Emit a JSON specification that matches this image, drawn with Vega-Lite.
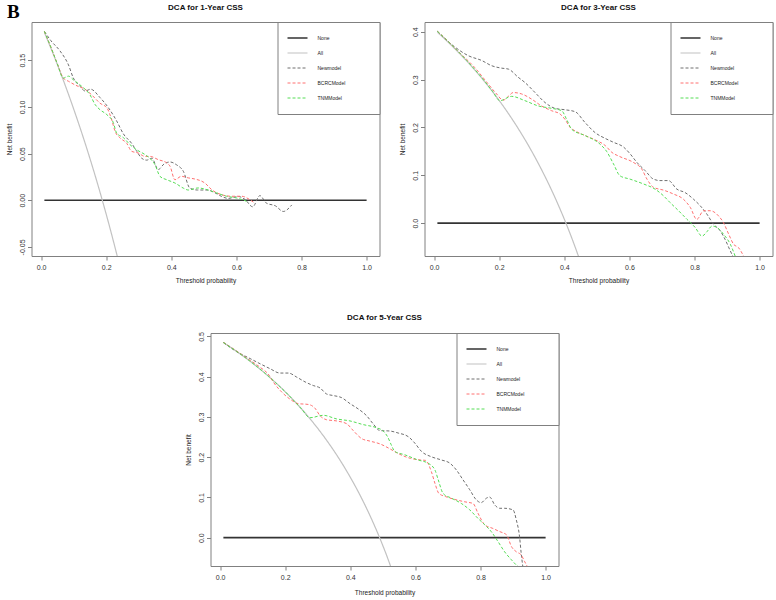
{
  "$schema": "https://vega.github.io/schema/vega-lite/v6.json",
  "padding": {"left": 5.5, "top": 3, "right": 2, "bottom": 3},
  "background": "white",
  "title": {"text": "B", "anchor": "start", "frame": "bounds", "orient": "top", "offset": -19, "dx": 1, "font": "Liberation Serif", "fontSize": 19, "fontWeight": "bold", "color": "#000000"},
  "datasets": {
    "dca": [
      {"panel":1,"model":"None","t":0.01,"nb":0},{"panel":1,"model":"None","t":1,"nb":0},
      {"panel":1,"model":"All","t":0.01,"nb":0.1798},{"panel":1,"model":"All","t":0.03,"nb":0.1629},{"panel":1,"model":"All","t":0.05,"nb":0.1453},{"panel":1,"model":"All","t":0.07,"nb":0.1269},{"panel":1,"model":"All","t":0.09,"nb":0.1077},{"panel":1,"model":"All","t":0.11,"nb":0.0876},{"panel":1,"model":"All","t":0.13,"nb":0.0667},{"panel":1,"model":"All","t":0.15,"nb":0.0447},{"panel":1,"model":"All","t":0.17,"nb":0.0217},{"panel":1,"model":"All","t":0.19,"nb":-0.0025},{"panel":1,"model":"All","t":0.21,"nb":-0.0279},{"panel":1,"model":"All","t":0.23,"nb":-0.0546},{"panel":1,"model":"All","t":0.25,"nb":-0.0827},
      {"panel":1,"model":"Newmodel","t":0.01,"nb":0.181},{"panel":1,"model":"Newmodel","t":0.03,"nb":0.171},{"panel":1,"model":"Newmodel","t":0.058,"nb":0.16},{"panel":1,"model":"Newmodel","t":0.084,"nb":0.145},{"panel":1,"model":"Newmodel","t":0.099,"nb":0.131},{"panel":1,"model":"Newmodel","t":0.12,"nb":0.122},{"panel":1,"model":"Newmodel","t":0.135,"nb":0.117},{"panel":1,"model":"Newmodel","t":0.152,"nb":0.119},{"panel":1,"model":"Newmodel","t":0.181,"nb":0.11},{"panel":1,"model":"Newmodel","t":0.207,"nb":0.099},{"panel":1,"model":"Newmodel","t":0.232,"nb":0.085},{"panel":1,"model":"Newmodel","t":0.253,"nb":0.071},{"panel":1,"model":"Newmodel","t":0.278,"nb":0.061},{"panel":1,"model":"Newmodel","t":0.293,"nb":0.053},{"panel":1,"model":"Newmodel","t":0.309,"nb":0.045},{"panel":1,"model":"Newmodel","t":0.324,"nb":0.043},{"panel":1,"model":"Newmodel","t":0.34,"nb":0.045},{"panel":1,"model":"Newmodel","t":0.36,"nb":0.033},{"panel":1,"model":"Newmodel","t":0.378,"nb":0.039},{"panel":1,"model":"Newmodel","t":0.396,"nb":0.041},{"panel":1,"model":"Newmodel","t":0.416,"nb":0.038},{"panel":1,"model":"Newmodel","t":0.437,"nb":0.031},{"panel":1,"model":"Newmodel","t":0.457,"nb":0.013},{"panel":1,"model":"Newmodel","t":0.48,"nb":0.011},{"panel":1,"model":"Newmodel","t":0.51,"nb":0.011},{"panel":1,"model":"Newmodel","t":0.534,"nb":0.008},{"panel":1,"model":"Newmodel","t":0.555,"nb":0.004},{"panel":1,"model":"Newmodel","t":0.575,"nb":0.002},{"panel":1,"model":"Newmodel","t":0.606,"nb":0.004},{"panel":1,"model":"Newmodel","t":0.626,"nb":0.001},{"panel":1,"model":"Newmodel","t":0.65,"nb":-0.007},{"panel":1,"model":"Newmodel","t":0.672,"nb":0.005},{"panel":1,"model":"Newmodel","t":0.692,"nb":-0.003},{"panel":1,"model":"Newmodel","t":0.72,"nb":-0.006},{"panel":1,"model":"Newmodel","t":0.744,"nb":-0.012},{"panel":1,"model":"Newmodel","t":0.77,"nb":-0.005},
      {"panel":1,"model":"BCRCModel","t":0.01,"nb":0.181},{"panel":1,"model":"BCRCModel","t":0.03,"nb":0.164},{"panel":1,"model":"BCRCModel","t":0.05,"nb":0.146},{"panel":1,"model":"BCRCModel","t":0.068,"nb":0.131},{"panel":1,"model":"BCRCModel","t":0.084,"nb":0.1275},{"panel":1,"model":"BCRCModel","t":0.114,"nb":0.122},{"panel":1,"model":"BCRCModel","t":0.135,"nb":0.119},{"panel":1,"model":"BCRCModel","t":0.155,"nb":0.113},{"panel":1,"model":"BCRCModel","t":0.181,"nb":0.104},{"panel":1,"model":"BCRCModel","t":0.202,"nb":0.099},{"panel":1,"model":"BCRCModel","t":0.217,"nb":0.086},{"panel":1,"model":"BCRCModel","t":0.227,"nb":0.074},{"panel":1,"model":"BCRCModel","t":0.242,"nb":0.067},{"panel":1,"model":"BCRCModel","t":0.263,"nb":0.061},{"panel":1,"model":"BCRCModel","t":0.278,"nb":0.0525},{"panel":1,"model":"BCRCModel","t":0.298,"nb":0.0507},{"panel":1,"model":"BCRCModel","t":0.319,"nb":0.047},{"panel":1,"model":"BCRCModel","t":0.334,"nb":0.047},{"panel":1,"model":"BCRCModel","t":0.36,"nb":0.0435},{"panel":1,"model":"BCRCModel","t":0.386,"nb":0.04},{"panel":1,"model":"BCRCModel","t":0.396,"nb":0.0365},{"panel":1,"model":"BCRCModel","t":0.411,"nb":0.022},{"panel":1,"model":"BCRCModel","t":0.431,"nb":0.0257},{"panel":1,"model":"BCRCModel","t":0.452,"nb":0.024},{"panel":1,"model":"BCRCModel","t":0.472,"nb":0.0228},{"panel":1,"model":"BCRCModel","t":0.503,"nb":0.0185},{"panel":1,"model":"BCRCModel","t":0.524,"nb":0.0114},{"panel":1,"model":"BCRCModel","t":0.554,"nb":0.006},{"panel":1,"model":"BCRCModel","t":0.585,"nb":0.0043},{"panel":1,"model":"BCRCModel","t":0.616,"nb":0.0043},{"panel":1,"model":"BCRCModel","t":0.641,"nb":0.0007},{"panel":1,"model":"BCRCModel","t":0.656,"nb":-0.003},
      {"panel":1,"model":"TNMModel","t":0.01,"nb":0.181},{"panel":1,"model":"TNMModel","t":0.03,"nb":0.164},{"panel":1,"model":"TNMModel","t":0.05,"nb":0.146},{"panel":1,"model":"TNMModel","t":0.068,"nb":0.131},{"panel":1,"model":"TNMModel","t":0.084,"nb":0.133},{"panel":1,"model":"TNMModel","t":0.099,"nb":0.129},{"panel":1,"model":"TNMModel","t":0.125,"nb":0.122},{"panel":1,"model":"TNMModel","t":0.15,"nb":0.113},{"panel":1,"model":"TNMModel","t":0.166,"nb":0.1025},{"panel":1,"model":"TNMModel","t":0.181,"nb":0.097},{"panel":1,"model":"TNMModel","t":0.202,"nb":0.0917},{"panel":1,"model":"TNMModel","t":0.222,"nb":0.083},{"panel":1,"model":"TNMModel","t":0.232,"nb":0.072},{"panel":1,"model":"TNMModel","t":0.253,"nb":0.067},{"panel":1,"model":"TNMModel","t":0.273,"nb":0.0596},{"panel":1,"model":"TNMModel","t":0.294,"nb":0.054},{"panel":1,"model":"TNMModel","t":0.319,"nb":0.049},{"panel":1,"model":"TNMModel","t":0.334,"nb":0.045},{"panel":1,"model":"TNMModel","t":0.35,"nb":0.038},{"panel":1,"model":"TNMModel","t":0.365,"nb":0.0257},{"panel":1,"model":"TNMModel","t":0.386,"nb":0.022},{"panel":1,"model":"TNMModel","t":0.411,"nb":0.0185},{"panel":1,"model":"TNMModel","t":0.437,"nb":0.013},{"panel":1,"model":"TNMModel","t":0.452,"nb":0.011},{"panel":1,"model":"TNMModel","t":0.482,"nb":0.0132},{"panel":1,"model":"TNMModel","t":0.513,"nb":0.011},{"panel":1,"model":"TNMModel","t":0.539,"nb":0.0079},{"panel":1,"model":"TNMModel","t":0.57,"nb":0.0043},{"panel":1,"model":"TNMModel","t":0.6,"nb":0.0025},{"panel":1,"model":"TNMModel","t":0.631,"nb":-0.001},

      {"panel":2,"model":"None","t":0.01,"nb":0},{"panel":2,"model":"None","t":1,"nb":0},
      {"panel":2,"model":"All","t":0.01,"nb":0.399},{"panel":2,"model":"All","t":0.03,"nb":0.3866},{"panel":2,"model":"All","t":0.05,"nb":0.3737},{"panel":2,"model":"All","t":0.07,"nb":0.3602},{"panel":2,"model":"All","t":0.09,"nb":0.3462},{"panel":2,"model":"All","t":0.11,"nb":0.3315},{"panel":2,"model":"All","t":0.13,"nb":0.3161},{"panel":2,"model":"All","t":0.15,"nb":0.3},{"panel":2,"model":"All","t":0.17,"nb":0.2831},{"panel":2,"model":"All","t":0.19,"nb":0.2654},{"panel":2,"model":"All","t":0.21,"nb":0.2468},{"panel":2,"model":"All","t":0.23,"nb":0.2273},{"panel":2,"model":"All","t":0.25,"nb":0.2067},{"panel":2,"model":"All","t":0.27,"nb":0.1849},{"panel":2,"model":"All","t":0.29,"nb":0.162},{"panel":2,"model":"All","t":0.31,"nb":0.1377},{"panel":2,"model":"All","t":0.33,"nb":0.1119},{"panel":2,"model":"All","t":0.35,"nb":0.0846},{"panel":2,"model":"All","t":0.37,"nb":0.0556},{"panel":2,"model":"All","t":0.39,"nb":0.0246},{"panel":2,"model":"All","t":0.41,"nb":-0.0085},{"panel":2,"model":"All","t":0.43,"nb":-0.0439},{"panel":2,"model":"All","t":0.45,"nb":-0.0818},
      {"panel":2,"model":"Newmodel","t":0.01,"nb":0.401},{"panel":2,"model":"Newmodel","t":0.064,"nb":0.368},{"panel":2,"model":"Newmodel","t":0.105,"nb":0.35},{"panel":2,"model":"Newmodel","t":0.146,"nb":0.34},{"panel":2,"model":"Newmodel","t":0.177,"nb":0.329},{"panel":2,"model":"Newmodel","t":0.207,"nb":0.324},{"panel":2,"model":"Newmodel","t":0.228,"nb":0.322},{"panel":2,"model":"Newmodel","t":0.258,"nb":0.305},{"panel":2,"model":"Newmodel","t":0.279,"nb":0.294},{"panel":2,"model":"Newmodel","t":0.31,"nb":0.273},{"panel":2,"model":"Newmodel","t":0.341,"nb":0.252},{"panel":2,"model":"Newmodel","t":0.371,"nb":0.24},{"panel":2,"model":"Newmodel","t":0.402,"nb":0.237},{"panel":2,"model":"Newmodel","t":0.433,"nb":0.233},{"panel":2,"model":"Newmodel","t":0.464,"nb":0.21},{"panel":2,"model":"Newmodel","t":0.495,"nb":0.189},{"panel":2,"model":"Newmodel","t":0.526,"nb":0.177},{"panel":2,"model":"Newmodel","t":0.551,"nb":0.169},{"panel":2,"model":"Newmodel","t":0.582,"nb":0.159},{"panel":2,"model":"Newmodel","t":0.602,"nb":0.145},{"panel":2,"model":"Newmodel","t":0.623,"nb":0.127},{"panel":2,"model":"Newmodel","t":0.648,"nb":0.11},{"panel":2,"model":"Newmodel","t":0.674,"nb":0.092},{"panel":2,"model":"Newmodel","t":0.694,"nb":0.089},{"panel":2,"model":"Newmodel","t":0.72,"nb":0.089},{"panel":2,"model":"Newmodel","t":0.746,"nb":0.071},{"panel":2,"model":"Newmodel","t":0.771,"nb":0.064},{"panel":2,"model":"Newmodel","t":0.797,"nb":0.05},{"panel":2,"model":"Newmodel","t":0.818,"nb":0.036},{"panel":2,"model":"Newmodel","t":0.838,"nb":0.019},{"panel":2,"model":"Newmodel","t":0.858,"nb":-0.002},{"panel":2,"model":"Newmodel","t":0.879,"nb":-0.016},{"panel":2,"model":"Newmodel","t":0.894,"nb":-0.034},{"panel":2,"model":"Newmodel","t":0.91,"nb":-0.058},{"panel":2,"model":"Newmodel","t":0.92,"nb":-0.072},
      {"panel":2,"model":"BCRCModel","t":0.01,"nb":0.401},{"panel":2,"model":"BCRCModel","t":0.04,"nb":0.382},{"panel":2,"model":"BCRCModel","t":0.074,"nb":0.359},{"panel":2,"model":"BCRCModel","t":0.125,"nb":0.325},{"panel":2,"model":"BCRCModel","t":0.166,"nb":0.291},{"panel":2,"model":"BCRCModel","t":0.192,"nb":0.27},{"panel":2,"model":"BCRCModel","t":0.212,"nb":0.257},{"panel":2,"model":"BCRCModel","t":0.228,"nb":0.265},{"panel":2,"model":"BCRCModel","t":0.243,"nb":0.273},{"panel":2,"model":"BCRCModel","t":0.269,"nb":0.27},{"panel":2,"model":"BCRCModel","t":0.3,"nb":0.259},{"panel":2,"model":"BCRCModel","t":0.33,"nb":0.245},{"panel":2,"model":"BCRCModel","t":0.361,"nb":0.235},{"panel":2,"model":"BCRCModel","t":0.387,"nb":0.228},{"panel":2,"model":"BCRCModel","t":0.402,"nb":0.217},{"panel":2,"model":"BCRCModel","t":0.418,"nb":0.2},{"panel":2,"model":"BCRCModel","t":0.433,"nb":0.193},{"panel":2,"model":"BCRCModel","t":0.464,"nb":0.183},{"panel":2,"model":"BCRCModel","t":0.495,"nb":0.174},{"panel":2,"model":"BCRCModel","t":0.526,"nb":0.162},{"panel":2,"model":"BCRCModel","t":0.546,"nb":0.148},{"panel":2,"model":"BCRCModel","t":0.571,"nb":0.139},{"panel":2,"model":"BCRCModel","t":0.612,"nb":0.127},{"panel":2,"model":"BCRCModel","t":0.638,"nb":0.113},{"panel":2,"model":"BCRCModel","t":0.654,"nb":0.092},{"panel":2,"model":"BCRCModel","t":0.674,"nb":0.075},{"panel":2,"model":"BCRCModel","t":0.705,"nb":0.069},{"panel":2,"model":"BCRCModel","t":0.735,"nb":0.061},{"panel":2,"model":"BCRCModel","t":0.766,"nb":0.05},{"panel":2,"model":"BCRCModel","t":0.787,"nb":0.033},{"panel":2,"model":"BCRCModel","t":0.807,"nb":0.008},{"panel":2,"model":"BCRCModel","t":0.828,"nb":0.026},{"panel":2,"model":"BCRCModel","t":0.848,"nb":0.026},{"panel":2,"model":"BCRCModel","t":0.874,"nb":0.015},{"panel":2,"model":"BCRCModel","t":0.889,"nb":0.001},{"panel":2,"model":"BCRCModel","t":0.905,"nb":-0.023},{"panel":2,"model":"BCRCModel","t":0.92,"nb":-0.044},{"panel":2,"model":"BCRCModel","t":0.935,"nb":-0.051},{"panel":2,"model":"BCRCModel","t":0.951,"nb":-0.069},
      {"panel":2,"model":"TNMModel","t":0.01,"nb":0.401},{"panel":2,"model":"TNMModel","t":0.05,"nb":0.375},{"panel":2,"model":"TNMModel","t":0.1,"nb":0.34},{"panel":2,"model":"TNMModel","t":0.15,"nb":0.301},{"panel":2,"model":"TNMModel","t":0.18,"nb":0.275},{"panel":2,"model":"TNMModel","t":0.202,"nb":0.256},{"panel":2,"model":"TNMModel","t":0.238,"nb":0.265},{"panel":2,"model":"TNMModel","t":0.279,"nb":0.256},{"panel":2,"model":"TNMModel","t":0.32,"nb":0.245},{"panel":2,"model":"TNMModel","t":0.361,"nb":0.24},{"panel":2,"model":"TNMModel","t":0.392,"nb":0.235},{"panel":2,"model":"TNMModel","t":0.407,"nb":0.217},{"panel":2,"model":"TNMModel","t":0.423,"nb":0.196},{"panel":2,"model":"TNMModel","t":0.464,"nb":0.183},{"panel":2,"model":"TNMModel","t":0.51,"nb":0.165},{"panel":2,"model":"TNMModel","t":0.53,"nb":0.15},{"panel":2,"model":"TNMModel","t":0.551,"nb":0.124},{"panel":2,"model":"TNMModel","t":0.571,"nb":0.099},{"panel":2,"model":"TNMModel","t":0.602,"nb":0.092},{"panel":2,"model":"TNMModel","t":0.643,"nb":0.082},{"panel":2,"model":"TNMModel","t":0.679,"nb":0.071},{"panel":2,"model":"TNMModel","t":0.705,"nb":0.057},{"panel":2,"model":"TNMModel","t":0.725,"nb":0.043},{"panel":2,"model":"TNMModel","t":0.751,"nb":0.026},{"panel":2,"model":"TNMModel","t":0.777,"nb":0.008},{"panel":2,"model":"TNMModel","t":0.802,"nb":-0.009},{"panel":2,"model":"TNMModel","t":0.823,"nb":-0.027},{"panel":2,"model":"TNMModel","t":0.838,"nb":-0.018},{"panel":2,"model":"TNMModel","t":0.854,"nb":-0.006},{"panel":2,"model":"TNMModel","t":0.869,"nb":-0.009},{"panel":2,"model":"TNMModel","t":0.889,"nb":-0.023},{"panel":2,"model":"TNMModel","t":0.91,"nb":-0.044},{"panel":2,"model":"TNMModel","t":0.925,"nb":-0.069},

      {"panel":3,"model":"None","t":0.01,"nb":0},{"panel":3,"model":"None","t":1,"nb":0},
      {"panel":3,"model":"All","t":0.01,"nb":0.4848},{"panel":3,"model":"All","t":0.03,"nb":0.4742},{"panel":3,"model":"All","t":0.05,"nb":0.4632},{"panel":3,"model":"All","t":0.07,"nb":0.4516},{"panel":3,"model":"All","t":0.09,"nb":0.4396},{"panel":3,"model":"All","t":0.11,"nb":0.427},{"panel":3,"model":"All","t":0.13,"nb":0.4138},{"panel":3,"model":"All","t":0.15,"nb":0.4},{"panel":3,"model":"All","t":0.17,"nb":0.3855},{"panel":3,"model":"All","t":0.19,"nb":0.3704},{"panel":3,"model":"All","t":0.21,"nb":0.3544},{"panel":3,"model":"All","t":0.23,"nb":0.3377},{"panel":3,"model":"All","t":0.25,"nb":0.32},{"panel":3,"model":"All","t":0.27,"nb":0.3014},{"panel":3,"model":"All","t":0.29,"nb":0.2817},{"panel":3,"model":"All","t":0.31,"nb":0.2609},{"panel":3,"model":"All","t":0.33,"nb":0.2388},{"panel":3,"model":"All","t":0.35,"nb":0.2154},{"panel":3,"model":"All","t":0.37,"nb":0.1905},{"panel":3,"model":"All","t":0.39,"nb":0.1639},{"panel":3,"model":"All","t":0.41,"nb":0.1356},{"panel":3,"model":"All","t":0.43,"nb":0.1053},{"panel":3,"model":"All","t":0.45,"nb":0.0727},{"panel":3,"model":"All","t":0.47,"nb":0.0377},{"panel":3,"model":"All","t":0.49,"nb":0},{"panel":3,"model":"All","t":0.51,"nb":-0.0408},{"panel":3,"model":"All","t":0.53,"nb":-0.0851},
      {"panel":3,"model":"Newmodel","t":0.01,"nb":0.485},{"panel":3,"model":"Newmodel","t":0.051,"nb":0.462},{"panel":3,"model":"Newmodel","t":0.092,"nb":0.445},{"panel":3,"model":"Newmodel","t":0.123,"nb":0.432},{"panel":3,"model":"Newmodel","t":0.153,"nb":0.42},{"panel":3,"model":"Newmodel","t":0.184,"nb":0.409},{"panel":3,"model":"Newmodel","t":0.21,"nb":0.409},{"panel":3,"model":"Newmodel","t":0.235,"nb":0.399},{"panel":3,"model":"Newmodel","t":0.261,"nb":0.387},{"panel":3,"model":"Newmodel","t":0.286,"nb":0.378},{"panel":3,"model":"Newmodel","t":0.307,"nb":0.372},{"panel":3,"model":"Newmodel","t":0.327,"nb":0.357},{"panel":3,"model":"Newmodel","t":0.348,"nb":0.353},{"panel":3,"model":"Newmodel","t":0.373,"nb":0.348},{"panel":3,"model":"Newmodel","t":0.399,"nb":0.333},{"panel":3,"model":"Newmodel","t":0.424,"nb":0.32},{"panel":3,"model":"Newmodel","t":0.45,"nb":0.303},{"panel":3,"model":"Newmodel","t":0.47,"nb":0.283},{"panel":3,"model":"Newmodel","t":0.491,"nb":0.266},{"panel":3,"model":"Newmodel","t":0.521,"nb":0.265},{"panel":3,"model":"Newmodel","t":0.547,"nb":0.26},{"panel":3,"model":"Newmodel","t":0.578,"nb":0.251},{"panel":3,"model":"Newmodel","t":0.598,"nb":0.235},{"panel":3,"model":"Newmodel","t":0.619,"nb":0.214},{"panel":3,"model":"Newmodel","t":0.649,"nb":0.201},{"panel":3,"model":"Newmodel","t":0.68,"nb":0.193},{"panel":3,"model":"Newmodel","t":0.706,"nb":0.185},{"panel":3,"model":"Newmodel","t":0.726,"nb":0.168},{"panel":3,"model":"Newmodel","t":0.746,"nb":0.144},{"panel":3,"model":"Newmodel","t":0.767,"nb":0.119},{"panel":3,"model":"Newmodel","t":0.787,"nb":0.094},{"panel":3,"model":"Newmodel","t":0.802,"nb":0.087},{"panel":3,"model":"Newmodel","t":0.818,"nb":0.098},{"panel":3,"model":"Newmodel","t":0.828,"nb":0.101},{"panel":3,"model":"Newmodel","t":0.844,"nb":0.081},{"panel":3,"model":"Newmodel","t":0.859,"nb":0.073},{"panel":3,"model":"Newmodel","t":0.874,"nb":0.073},{"panel":3,"model":"Newmodel","t":0.9,"nb":0.069},{"panel":3,"model":"Newmodel","t":0.91,"nb":0.044},{"panel":3,"model":"Newmodel","t":0.92,"nb":0.002},{"panel":3,"model":"Newmodel","t":0.925,"nb":-0.039},{"panel":3,"model":"Newmodel","t":0.93,"nb":-0.072},
      {"panel":3,"model":"BCRCModel","t":0.01,"nb":0.485},{"panel":3,"model":"BCRCModel","t":0.05,"nb":0.464},{"panel":3,"model":"BCRCModel","t":0.082,"nb":0.446},{"panel":3,"model":"BCRCModel","t":0.12,"nb":0.425},{"panel":3,"model":"BCRCModel","t":0.15,"nb":0.404},{"panel":3,"model":"BCRCModel","t":0.164,"nb":0.386},{"panel":3,"model":"BCRCModel","t":0.189,"nb":0.362},{"panel":3,"model":"BCRCModel","t":0.215,"nb":0.344},{"panel":3,"model":"BCRCModel","t":0.24,"nb":0.333},{"panel":3,"model":"BCRCModel","t":0.271,"nb":0.331},{"panel":3,"model":"BCRCModel","t":0.291,"nb":0.322},{"panel":3,"model":"BCRCModel","t":0.307,"nb":0.303},{"panel":3,"model":"BCRCModel","t":0.327,"nb":0.293},{"panel":3,"model":"BCRCModel","t":0.358,"nb":0.29},{"panel":3,"model":"BCRCModel","t":0.389,"nb":0.283},{"panel":3,"model":"BCRCModel","t":0.409,"nb":0.266},{"panel":3,"model":"BCRCModel","t":0.435,"nb":0.246},{"panel":3,"model":"BCRCModel","t":0.46,"nb":0.24},{"panel":3,"model":"BCRCModel","t":0.491,"nb":0.233},{"panel":3,"model":"BCRCModel","t":0.521,"nb":0.221},{"panel":3,"model":"BCRCModel","t":0.547,"nb":0.209},{"panel":3,"model":"BCRCModel","t":0.585,"nb":0.197},{"panel":3,"model":"BCRCModel","t":0.616,"nb":0.193},{"panel":3,"model":"BCRCModel","t":0.631,"nb":0.192},{"panel":3,"model":"BCRCModel","t":0.649,"nb":0.164},{"panel":3,"model":"BCRCModel","t":0.66,"nb":0.135},{"panel":3,"model":"BCRCModel","t":0.672,"nb":0.11},{"panel":3,"model":"BCRCModel","t":0.693,"nb":0.102},{"panel":3,"model":"BCRCModel","t":0.721,"nb":0.095},{"panel":3,"model":"BCRCModel","t":0.752,"nb":0.089},{"panel":3,"model":"BCRCModel","t":0.777,"nb":0.085},{"panel":3,"model":"BCRCModel","t":0.792,"nb":0.061},{"panel":3,"model":"BCRCModel","t":0.813,"nb":0.032},{"panel":3,"model":"BCRCModel","t":0.838,"nb":0.023},{"panel":3,"model":"BCRCModel","t":0.859,"nb":0.015},{"panel":3,"model":"BCRCModel","t":0.88,"nb":0.007},{"panel":3,"model":"BCRCModel","t":0.895,"nb":-0.022},{"panel":3,"model":"BCRCModel","t":0.91,"nb":-0.035},{"panel":3,"model":"BCRCModel","t":0.925,"nb":-0.043},{"panel":3,"model":"BCRCModel","t":0.936,"nb":-0.06},{"panel":3,"model":"BCRCModel","t":0.944,"nb":-0.072},
      {"panel":3,"model":"TNMModel","t":0.01,"nb":0.4848},{"panel":3,"model":"TNMModel","t":0.05,"nb":0.4632},{"panel":3,"model":"TNMModel","t":0.09,"nb":0.4396},{"panel":3,"model":"TNMModel","t":0.13,"nb":0.4138},{"panel":3,"model":"TNMModel","t":0.17,"nb":0.3855},{"panel":3,"model":"TNMModel","t":0.21,"nb":0.3544},{"panel":3,"model":"TNMModel","t":0.25,"nb":0.32},{"panel":3,"model":"TNMModel","t":0.276,"nb":0.298},{"panel":3,"model":"TNMModel","t":0.317,"nb":0.304},{"panel":3,"model":"TNMModel","t":0.358,"nb":0.295},{"panel":3,"model":"TNMModel","t":0.399,"nb":0.29},{"panel":3,"model":"TNMModel","t":0.439,"nb":0.281},{"panel":3,"model":"TNMModel","t":0.481,"nb":0.273},{"panel":3,"model":"TNMModel","t":0.501,"nb":0.265},{"panel":3,"model":"TNMModel","t":0.515,"nb":0.25},{"panel":3,"model":"TNMModel","t":0.525,"nb":0.232},{"panel":3,"model":"TNMModel","t":0.537,"nb":0.214},{"panel":3,"model":"TNMModel","t":0.567,"nb":0.206},{"panel":3,"model":"TNMModel","t":0.608,"nb":0.193},{"panel":3,"model":"TNMModel","t":0.639,"nb":0.185},{"panel":3,"model":"TNMModel","t":0.66,"nb":0.168},{"panel":3,"model":"TNMModel","t":0.67,"nb":0.144},{"panel":3,"model":"TNMModel","t":0.685,"nb":0.11},{"panel":3,"model":"TNMModel","t":0.711,"nb":0.098},{"panel":3,"model":"TNMModel","t":0.741,"nb":0.085},{"panel":3,"model":"TNMModel","t":0.767,"nb":0.069},{"panel":3,"model":"TNMModel","t":0.792,"nb":0.048},{"panel":3,"model":"TNMModel","t":0.813,"nb":0.032},{"panel":3,"model":"TNMModel","t":0.833,"nb":0.015},{"panel":3,"model":"TNMModel","t":0.854,"nb":-0.01},{"panel":3,"model":"TNMModel","t":0.874,"nb":-0.035},{"panel":3,"model":"TNMModel","t":0.895,"nb":-0.055},{"panel":3,"model":"TNMModel","t":0.91,"nb":-0.068},{"panel":3,"model":"TNMModel","t":0.92,"nb":-0.075}
    ]
  },
  "vconcat": [
    {
      "spacing": 18,
      "resolve": {"scale": {"x": "independent", "y": "independent", "color": "independent", "strokeDash": "independent", "strokeWidth": "independent"}, "legend": {"color": "independent", "strokeDash": "independent", "strokeWidth": "independent"}},
      "hconcat": [
        {
          "width": 348, "height": 234,
          "title": "DCA for 1-Year CSS",
          "data": {"name": "dca"},
          "transform": [{"filter": "datum.panel === 1"}],
          "mark": {"type": "line", "clip": true, "interpolate": "monotone"},
          "encoding": {
            "x": {"field": "t", "type": "quantitative", "scale": {"domain": [-0.0296, 1.0396], "nice": false, "zero": false}, "axis": {"values": [0, 0.2, 0.4, 0.6, 0.8, 1], "format": ".1f", "title": "Threshold probability"}},
            "y": {"field": "nb", "type": "quantitative", "scale": {"domain": [-0.0597, 0.191], "nice": false, "zero": false}, "axis": {"values": [-0.05, 0, 0.05, 0.1, 0.15], "format": ".2f", "labelExpr": "replace(datum.label, '\u2212', '-')", "title": "Net benefit"}},
            "color": {"field": "model", "type": "nominal", "scale": {"domain": ["None", "All", "Newmodel", "BCRCModel", "TNMModel"], "range": ["#333333", "#c2c2c2", "#6e6e6e", "#ff7070", "#55dd55"]}, "legend": {"orient": "top-right", "title": "MMMMMM"}},
            "strokeDash": {"field": "model", "type": "nominal", "scale": {"domain": ["None", "All", "Newmodel", "BCRCModel", "TNMModel"], "range": [[1, 0], [1, 0], [3, 2], [3, 2], [3, 2]]}, "legend": {"orient": "top-right", "title": "MMMMMM"}},
            "strokeWidth": {"field": "model", "type": "nominal", "scale": {"type": "ordinal", "domain": ["None", "All", "Newmodel", "BCRCModel", "TNMModel"], "range": [1.6, 1.2, 1, 1, 1]}, "legend": {"orient": "top-right", "title": "MMMMMM"}}
          }
        },
        {
          "width": 348, "height": 234,
          "title": "DCA for 3-Year CSS",
          "data": {"name": "dca"},
          "transform": [{"filter": "datum.panel === 2"}],
          "mark": {"type": "line", "clip": true, "interpolate": "monotone"},
          "encoding": {
            "x": {"field": "t", "type": "quantitative", "scale": {"domain": [-0.0296, 1.0396], "nice": false, "zero": false}, "axis": {"values": [0, 0.2, 0.4, 0.6, 0.8, 1], "format": ".1f", "title": "Threshold probability"}},
            "y": {"field": "nb", "type": "quantitative", "scale": {"domain": [-0.0686, 0.4204], "nice": false, "zero": false}, "axis": {"values": [0, 0.1, 0.2, 0.3, 0.4], "format": ".1f", "title": "Net benefit"}},
            "color": {"field": "model", "type": "nominal", "scale": {"domain": ["None", "All", "Newmodel", "BCRCModel", "TNMModel"], "range": ["#333333", "#c2c2c2", "#6e6e6e", "#ff7070", "#55dd55"]}, "legend": {"orient": "top-right", "title": "MMMMMM"}},
            "strokeDash": {"field": "model", "type": "nominal", "scale": {"domain": ["None", "All", "Newmodel", "BCRCModel", "TNMModel"], "range": [[1, 0], [1, 0], [3, 2], [3, 2], [3, 2]]}, "legend": {"orient": "top-right", "title": "MMMMMM"}},
            "strokeWidth": {"field": "model", "type": "nominal", "scale": {"type": "ordinal", "domain": ["None", "All", "Newmodel", "BCRCModel", "TNMModel"], "range": [1.6, 1.2, 1, 1, 1]}, "legend": {"orient": "top-right", "title": "MMMMMM"}}
          }
        }
      ]
    },
    {
      "spacing": 0,
      "resolve": {"scale": {"x": "independent", "y": "independent", "color": "independent", "strokeDash": "independent", "strokeWidth": "independent"}, "legend": {"color": "independent", "strokeDash": "independent", "strokeWidth": "independent"}},
      "hconcat": [
        {
          "width": 152.5, "height": 234,
          "data": {"values": []},
          "mark": "point",
          "view": {"stroke": null}
        },
        {
          "width": 348, "height": 233,
          "title": "DCA for 5-Year CSS",
          "data": {"name": "dca"},
          "transform": [{"filter": "datum.panel === 3"}],
          "mark": {"type": "line", "clip": true, "interpolate": "monotone"},
          "encoding": {
            "x": {"field": "t", "type": "quantitative", "scale": {"domain": [-0.0296, 1.0396], "nice": false, "zero": false}, "axis": {"values": [0, 0.2, 0.4, 0.6, 0.8, 1], "format": ".1f", "title": "Threshold probability", "titlePadding": 9}},
            "y": {"field": "nb", "type": "quantitative", "scale": {"domain": [-0.0704, 0.5085], "nice": false, "zero": false}, "axis": {"values": [0, 0.1, 0.2, 0.3, 0.4, 0.5], "format": ".1f", "title": "Net benefit"}},
            "color": {"field": "model", "type": "nominal", "scale": {"domain": ["None", "All", "Newmodel", "BCRCModel", "TNMModel"], "range": ["#333333", "#c2c2c2", "#6e6e6e", "#ff7070", "#55dd55"]}, "legend": {"orient": "top-right", "title": "MMMMMM"}},
            "strokeDash": {"field": "model", "type": "nominal", "scale": {"domain": ["None", "All", "Newmodel", "BCRCModel", "TNMModel"], "range": [[1, 0], [1, 0], [3, 2], [3, 2], [3, 2]]}, "legend": {"orient": "top-right", "title": "MMMMMM"}},
            "strokeWidth": {"field": "model", "type": "nominal", "scale": {"type": "ordinal", "domain": ["None", "All", "Newmodel", "BCRCModel", "TNMModel"], "range": [1.6, 1.2, 1, 1, 1]}, "legend": {"orient": "top-right", "title": "MMMMMM"}}
          }
        }
      ]
    }
  ],
  "spacing": 29,
  "resolve": {"scale": {"x": "independent", "y": "independent", "color": "independent", "strokeDash": "independent", "strokeWidth": "independent"}, "legend": {"color": "independent", "strokeDash": "independent", "strokeWidth": "independent"}},
  "config": {
    "font": "Liberation Sans",
    "view": {"stroke": "#808080", "strokeWidth": 1},
    "title": {"font": "Liberation Sans", "fontSize": 8, "fontWeight": "bold", "offset": 10, "anchor": "middle", "color": "#111111"},
    "axis": {"domain": false, "grid": false, "tickColor": "#808080", "tickSize": 4, "labelFont": "Liberation Sans", "labelFontSize": 7, "labelColor": "#333333", "titleFont": "Liberation Sans", "titleFontSize": 6.5, "titleFontWeight": "normal", "titleColor": "#222222", "labelFlush": false, "labelOverlap": false},
    "axisX": {"labelPadding": 3, "titlePadding": 7},
    "axisY": {"labelAngle": -90, "labelAlign": "center", "labelBaseline": "bottom", "labelPadding": 2, "titlePadding": 6},
    "legend": {"offset": 0, "padding": 9, "strokeColor": "#808080", "strokeWidth": 1, "fillColor": "white", "symbolType": "stroke", "symbolSize": 400, "labelFont": "Liberation Sans", "labelFontSize": 5, "labelColor": "#222222", "labelOffset": 9, "clipHeight": 14, "rowPadding": 1, "titleOrient": "right", "titleColor": "rgba(0,0,0,0)", "titleFontSize": 5, "titlePadding": 0, "titleFont": "Liberation Sans"}
  }
}
